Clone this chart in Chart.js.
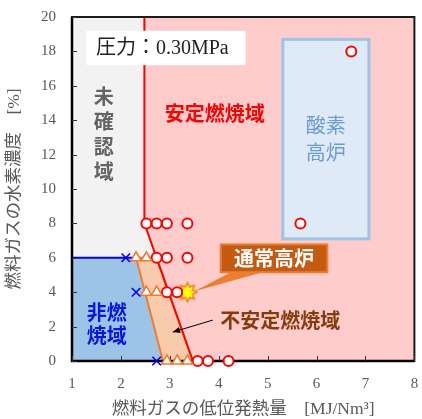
<!DOCTYPE html>
<html>
<head>
<meta charset="utf-8">
<script src="https://cdn.jsdelivr.net/npm/chart.js@4"></script>
<style>
  html, body { margin: 0; padding: 0; background: #fff; }
  #wrap { width: 422px; height: 419px; }
</style>
</head>
<body>
<div id="wrap"><canvas id="c" width="422" height="419"></canvas></div>
<script>
// ---- measured points: [MJ/Nm3] vs H2 [%] ----
const stableX   = [2.52, 2.73, 2.94, 3.36, 2.73, 2.94, 3.36, 2.94, 3.15, 3.57, 3.78, 4.20, 5.67, 6.71];
const stableY   = [8, 8, 8, 8, 6, 6, 6, 4, 4, 0, 0, 0, 8, 18];
const unstableX = [2.31, 2.52, 2.52, 2.73, 2.94, 3.15, 3.36];
const unstableY = [6, 6, 4, 4, 0, 0, 0];
const noFireX   = [2.10, 2.31, 2.73];
const noFireY   = [6, 4, 0];
const blastX    = [3.36];
const blastY    = [4];

// ---- axis ranges / ticks ----
const xRange = [1, 8];
const yRange = [0, 20];
const yStep = 2;

// ---- zone outlines (data coordinates) ----
const undecidedZone = [[1, 6], [1, 20], [2.48, 20], [2.48, 8], [2.73, 6]];
const noFireZone    = [[1, 0], [1, 6], [2.31, 6], [2.86, 0]];
const unstableZone  = [[2.31, 6], [2.73, 6], [3.47, 0], [2.86, 0]];
const stableEdge    = [[2.48, 20], [2.48, 8], [3.47, 0]];
const noFireEdge    = [[1, 6], [2.31, 6]];
const oxygenBox     = [5.31, 7.1, 7.07, 18.7];   // x0, y0, x1, y1

const JP = '"Noto Sans CJK JP", "Noto Sans", sans-serif';
const SERIF = '"Liberation Serif", "Noto Sans CJK JP", serif';

// star marker for the conventional blast furnace point
function makeStar() {
  const cv = document.createElement('canvas');
  const s = 22;
  cv.width = s; cv.height = s;
  const g = cv.getContext('2d');
  const n = 8, ro = 9.5, ri = 5.6, c = s / 2;
  g.beginPath();
  for (let i = 0; i < n * 2; i++) {
    const r = i % 2 === 0 ? ro : ri;
    const a = -Math.PI / 2 + i * Math.PI / n;
    const px = c + r * Math.cos(a), py = c + r * Math.sin(a);
    if (i === 0) g.moveTo(px, py); else g.lineTo(px, py);
  }
  g.closePath();
  g.fillStyle = '#ffff00';
  g.fill();
  g.lineWidth = 1.6;
  g.strokeStyle = '#ed7d31';
  g.stroke();
  return cv;
}

const toPts = (xs, ys) => xs.map((x, i) => ({ x, y: ys[i] }));

const zonesPlugin = {
  id: 'zones',
  beforeDatasetsDraw(chart) {
    const { ctx, chartArea: a, scales: { x, y } } = chart;
    const px = v => x.getPixelForValue(v), py = v => y.getPixelForValue(v);
    const poly = (pts, fill, stroke, lw) => {
      ctx.beginPath();
      pts.forEach((p, i) => i ? ctx.lineTo(px(p[0]), py(p[1])) : ctx.moveTo(px(p[0]), py(p[1])));
      ctx.closePath();
      if (fill) { ctx.fillStyle = fill; ctx.fill(); }
      if (stroke) { ctx.strokeStyle = stroke; ctx.lineWidth = lw; ctx.stroke(); }
    };
    const line = (pts, stroke, lw) => {
      ctx.beginPath();
      pts.forEach((p, i) => i ? ctx.lineTo(px(p[0]), py(p[1])) : ctx.moveTo(px(p[0]), py(p[1])));
      ctx.strokeStyle = stroke; ctx.lineWidth = lw; ctx.stroke();
    };
    ctx.save();
    // stable combustion background
    ctx.fillStyle = '#ffcccc';
    ctx.fillRect(a.left, a.top, a.right - a.left, a.bottom - a.top);
    poly(undecidedZone, '#f2f2f2');
    poly(noFireZone, '#9dc3e6');
    poly(unstableZone, '#f8cbad', '#ed7d31', 2);
    line(stableEdge, '#ff0000', 2);
    line(noFireEdge, '#0000ff', 2);

    // oxygen blast furnace box
    const [bx0, by0, bx1, by1] = oxygenBox;
    ctx.fillStyle = '#deebf7';
    ctx.fillRect(px(bx0), py(by1), px(bx1) - px(bx0), py(by0) - py(by1));
    ctx.strokeStyle = '#9dc3e6'; ctx.lineWidth = 3;
    ctx.strokeRect(px(bx0), py(by1), px(bx1) - px(bx0), py(by0) - py(by1));

    // frame: heavier left/bottom axes
    ctx.strokeStyle = '#1a1a1a'; ctx.lineWidth = 2;
    ctx.strokeRect(a.left, a.top, a.right - a.left, a.bottom - a.top);
    ctx.strokeStyle = '#000'; ctx.lineWidth = 2.5;
    ctx.beginPath();
    ctx.moveTo(a.left, a.top); ctx.lineTo(a.left, a.bottom); ctx.lineTo(a.right, a.bottom);
    ctx.stroke();
    // inward ticks
    ctx.lineWidth = 1; ctx.strokeStyle = '#333';
    ctx.beginPath();
    y.ticks.forEach(t => { const yy = Math.round(py(t.value)) + 0.5; ctx.moveTo(a.left, yy); ctx.lineTo(a.left + 5, yy); });
    x.ticks.forEach(t => { const xx = Math.round(px(t.value)) + 0.5; ctx.moveTo(xx, a.bottom); ctx.lineTo(xx, a.bottom - 5); });
    ctx.stroke();

    // zone labels
    ctx.textAlign = 'center'; ctx.textBaseline = 'middle';
    ctx.fillStyle = '#646464';
    ctx.font = 'bold 20px ' + JP;
    ['未', '確', '認', '域'].forEach((ch, i) => ctx.fillText(ch, px(1.65), py(15.4) + i * 25));
    ctx.fillStyle = '#ff0000';
    ctx.fillText('安定燃焼域', px(3.92), py(14.4));
    ctx.fillStyle = '#0a14e6';
    ctx.fillText('非燃', px(1.71), py(2.8));
    ctx.fillText('焼域', px(1.71), py(1.5));
    ctx.fillStyle = '#6a9bd3';
    ctx.font = '20px ' + JP;
    ctx.fillText('酸素', px(6.19), py(13.7));
    ctx.fillText('高炉', px(6.19), py(12.15));

    // pressure label
    ctx.fillStyle = '#fff';
    const lx0 = px(1.29), lx1 = px(4.55), ly0 = py(19.2), ly1 = py(17.2);
    ctx.fillRect(lx0, ly0, lx1 - lx0, ly1 - ly0);
    ctx.fillStyle = '#222';
    ctx.textAlign = 'left';
    ctx.font = '20px ' + SERIF;
    ctx.fillText('圧力：0.30MPa', px(1.49), (ly0 + ly1) / 2 + 1);
    ctx.restore();
  },
  afterDatasetsDraw(chart) {
    const { ctx, scales: { x, y } } = chart;
    const px = v => x.getPixelForValue(v), py = v => y.getPixelForValue(v);
    ctx.save();
    // callout for conventional blast furnace
    const cx0 = px(4.04), cx1 = px(6.22), cy0 = py(6.78), cy1 = py(5.16);
    ctx.beginPath();
    ctx.moveTo(px(4.25), cy1);
    ctx.lineTo(px(blastX[0]) + 7, py(blastY[0]) - 1);
    ctx.lineTo(px(4.9), cy1);
    ctx.closePath();
    ctx.fillStyle = '#ed7d31'; ctx.fill();
    ctx.fillStyle = '#c55a11';
    ctx.fillRect(cx0, cy0, cx1 - cx0, cy1 - cy0);
    ctx.strokeStyle = '#ed7d31'; ctx.lineWidth = 2;
    ctx.strokeRect(cx0, cy0, cx1 - cx0, cy1 - cy0);
    ctx.fillStyle = '#fff';
    ctx.font = 'bold 20px ' + JP;
    ctx.textAlign = 'center'; ctx.textBaseline = 'middle';
    ctx.fillText('通常高炉', (cx0 + cx1) / 2, (cy0 + cy1) / 2);

    // unstable zone label with arrow
    ctx.fillStyle = '#843c0c';
    ctx.fillText('不安定燃焼域', px(5.26), py(2.38));
    const ax0 = px(3.88), ay0 = py(2.38), ax1 = px(3.06), ay1 = py(1.68);
    ctx.strokeStyle = '#000'; ctx.lineWidth = 1;
    ctx.beginPath(); ctx.moveTo(ax0, ay0); ctx.lineTo(ax1, ay1); ctx.stroke();
    const ang = Math.atan2(ay1 - ay0, ax1 - ax0);
    ctx.beginPath();
    ctx.moveTo(ax1, ay1);
    ctx.lineTo(ax1 - 8 * Math.cos(ang - 0.4), ay1 - 8 * Math.sin(ang - 0.4));
    ctx.lineTo(ax1 - 8 * Math.cos(ang + 0.4), ay1 - 8 * Math.sin(ang + 0.4));
    ctx.closePath();
    ctx.fillStyle = '#000'; ctx.fill();
    ctx.restore();
  }
};

new Chart(document.getElementById('c'), {
  type: 'scatter',
  data: {
    datasets: [
      { label: '非燃焼', data: toPts(noFireX, noFireY), pointStyle: 'crossRot', radius: 6,
        borderColor: '#0000ff', borderWidth: 1.6, clip: false },
      { label: '不安定燃焼', data: toPts(unstableX, unstableY), pointStyle: 'triangle', radius: 6,
        backgroundColor: '#ffffff', borderColor: '#ed7d31', borderWidth: 1.6, clip: false },
      { label: '安定燃焼', data: toPts(stableX, stableY), pointStyle: 'circle', radius: 5,
        backgroundColor: '#ffffff', borderColor: '#ff0000', borderWidth: 2, clip: false },
      { label: '通常高炉', data: toPts(blastX, blastY), pointStyle: makeStar(), clip: false }
    ]
  },
  options: {
    responsive: false,
    animation: false,
    events: [],
    layout: { padding: { left: 0, top: 17, right: 7, bottom: 0 } },
    plugins: { legend: { display: false }, tooltip: { enabled: false } },
    scales: {
      x: {
        type: 'linear', min: xRange[0], max: xRange[1],
        border: { display: false },
        grid: { display: false, drawTicks: false },
        ticks: { stepSize: 1, padding: 14, color: '#595959', font: { family: SERIF, size: 15 } },
        title: { display: true, text: '燃料ガスの低位発熱量　[MJ/Nm³]', color: '#595959',
                 font: { family: SERIF, size: 17.5, lineHeight: 1.1 }, padding: 0 },
        afterFit(s) { s.height = 58; s.paddingLeft = 0; s.paddingRight = 0; }
      },
      y: {
        type: 'linear', min: yRange[0], max: yRange[1],
        border: { display: false },
        grid: { display: false, drawTicks: false },
        ticks: { stepSize: yStep, padding: 16, color: '#595959', font: { family: SERIF, size: 15 } },
        title: { display: true, text: '燃料ガスの水素濃度　[%]', color: '#595959',
                 font: { family: SERIF, size: 17.5 }, padding: { top: 4, bottom: 0 } },
        afterFit(s) { s.width = 72; s.paddingTop = 0; s.paddingBottom = 0; }
      }
    }
  },
  plugins: [zonesPlugin]
});
</script>
</body>
</html>
